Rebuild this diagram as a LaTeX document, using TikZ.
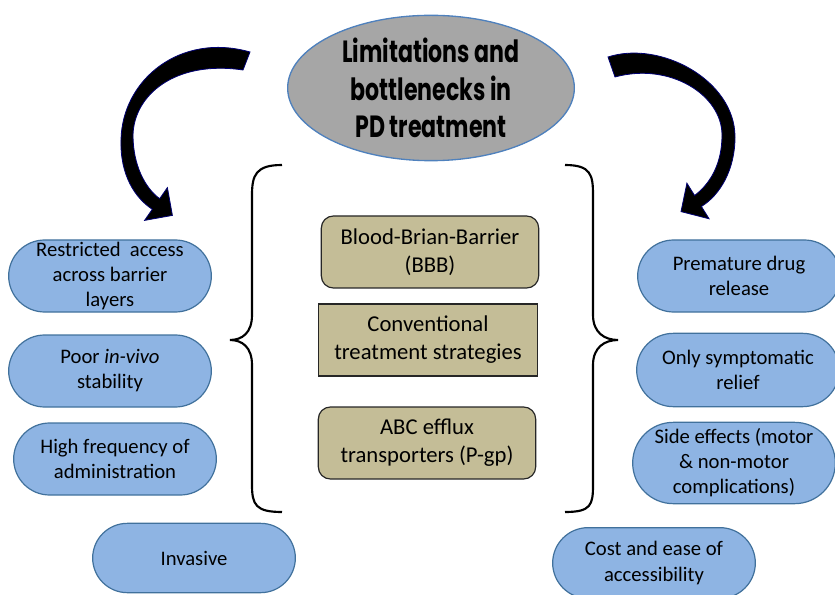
\documentclass[tikz,border=0pt]{standalone}
\usepackage{fontspec}
\setmainfont{Carlito}
\newfontfamily\titlefont[FakeStretch=0.72]{Poppins}
\usetikzlibrary{positioning,shapes.geometric,shapes.misc}
\definecolor{pillblue}{HTML}{8EB4E3}
\definecolor{pillline}{HTML}{41719C}
\definecolor{tanfill}{HTML}{C4BD97}
\definecolor{hubgray}{HTML}{A6A6A6}
\definecolor{hubline}{HTML}{4F81BD}

\begin{document}
\begin{tikzpicture}[
    x=0.75pt, y=-0.75pt,
    limit/.style={%
      draw=pillline,
      fill=pillblue,
      line width=0.9pt,
      rounded rectangle,
      minimum width=152pt,
      minimum height=54pt,
      inner sep=0pt,
      align=center,
      font=\fontsize{15.5}{18.8}\selectfont,
    },
    cause/.style={%
      draw=black!85,
      fill=tanfill,
      line width=0.9pt,
      rounded corners=9pt,
      minimum width=163pt,
      minimum height=54pt,
      align=center,
      font=\fontsize{17}{21}\selectfont,
    },
    hub/.style={%
      draw=hubline,
      fill=hubgray,
      line width=1pt,
      ellipse,
      minimum width=215pt,
      minimum height=109pt,
    },
    swoosh/.style={%
      fill=black,
      draw=black!55!blue,
      line width=0.6pt,
    },
    curly/.style={%
      draw,
      line width=1.6pt,
    },
  ]
    \useasboundingbox (0,0) rectangle (835,595);
    \begin{scope}
    \clip (0,0) rectangle (835,595);

    % title
    \node [hub] (T) at (431,88) {};
    \node [font=\titlefont\bfseries\fontsize{23}{28}\selectfont, align=center] (TT) at (T) {Limitations and\\bottlenecks in\\PD treatment};

    % swooshes
    \path [swoosh] (250,52) .. controls (180,32) and (122,80) .. (121,140)
      .. controls (120,175) and (135,198) .. (152.3,209.3)
      -- (144.6,220.4) -- (172.4,215.4) -- (167.4,187.6) -- (159.7,198.7)
      .. controls (145,188) and (133,165) .. (133,135)
      .. controls (134,95) and (175,60) .. (243,70) -- cycle;
    \path [swoosh] (608,57) .. controls (660,40) and (735,80) .. (735,137)
      .. controls (735,170) and (720,195) .. (701.4,206.5)
      -- (709.1,218.8) -- (681,211.6) -- (686.9,183.2) -- (694.6,195.5)
      .. controls (711,183) and (722,163) .. (722,135)
      .. controls (722,95) and (670,62) .. (615,77) -- cycle;

    % braces
    \draw [curly] (282,165) .. controls (256,165) and (252,175) .. (252,195)
      -- (252,315) .. controls (252,333) and (242,340) .. (230,340)
      .. controls (242,340) and (252,347) .. (252,365)
      -- (252,485) .. controls (252,505) and (256,512) .. (282,512);
    \draw [curly] (565,165) .. controls (591,165) and (593,175) .. (593,195)
      -- (593,315) .. controls (593,333) and (605,340) .. (618,340)
      .. controls (605,340) and (593,347) .. (593,365)
      -- (593,485) .. controls (593,505) and (591,512) .. (565,512);

    % middle
    \node [cause] (M1) at (430,252) {Blood-Brian-Barrier\\(BBB)};
    \node [cause, rounded corners=0pt, minimum width=164pt] (M2) at (428,340) {Conventional\\treatment strategies};
    \node [cause] (M3) at (427,443) {ABC efflux\\transporters (P-gp)};

    % left column
    \node [limit] (L1) at (110,276) {Restricted~ access\\across barrier\\layers};
    \path (L1) ++(0,95) node [limit] (L2) {Poor \textit{in-vivo}\\stability};
    \path (L2) ++(5,88) node [limit] (L3) {High frequency of\\administration};
    \path (L3) ++(79,99) node [limit, minimum height=52pt] (L4) {Invasive};

    % right column
    \node [limit] (R1) at (739,276) {Premature drug\\release};
    \path (R1) ++(-1,94) node [limit, minimum height=55pt] (R2) {Only symptomatic\\relief};
    \path (R2) ++(-4,93) node [limit, minimum height=61pt] (R3) {Side effects (motor\\\& non-motor\\complications)};
    \path (R3) ++(-80,100) node [limit, minimum height=53pt] (R4) {Cost and ease of\\accessibility};
    \end{scope}
\end{tikzpicture}
\end{document}
